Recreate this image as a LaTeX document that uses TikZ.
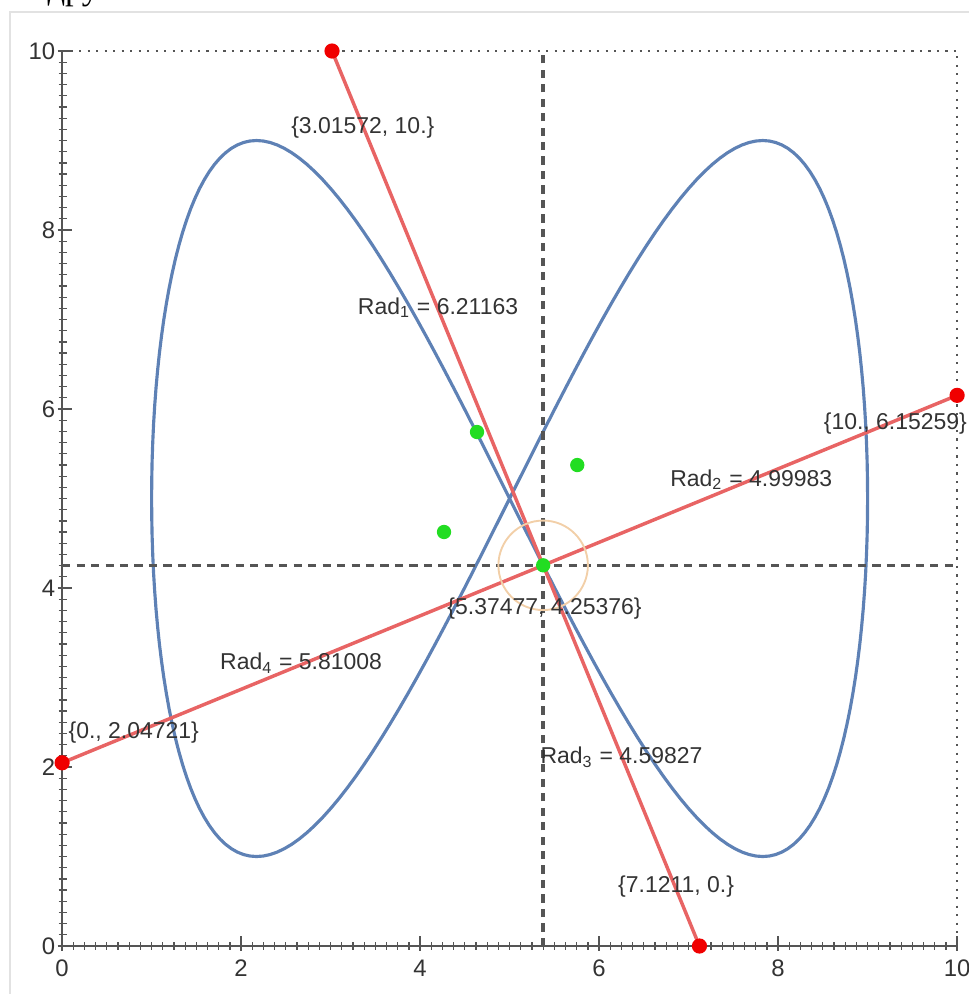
\documentclass[tikz,border=0pt]{standalone}
\usepackage{fontspec}
\setmainfont{Liberation Sans}
\newfontfamily\serifcyr{Liberation Serif}
\definecolor{curveblue}{HTML}{5E81B5}
\definecolor{linered}{HTML}{E86464}
\definecolor{dotred}{HTML}{F00000}
\definecolor{dotgreen}{HTML}{22DD22}
\definecolor{axisgray}{HTML}{555555}
\definecolor{labelgray}{HTML}{333333}
\definecolor{circorange}{HTML}{F2CFA8}
\definecolor{bordergray}{HTML}{E2E2E2}
\begin{document}
\begin{tikzpicture}[x=1cm,y=1cm,
  curve/.style={curveblue, line width=1pt},
  radline/.style={linered, line width=1.1pt},
  guide/.style={axisgray, line width=1.1pt, dash pattern=on 2.6pt off 2pt},
  reddot/.style={circle, fill=dotred, inner sep=0pt, minimum size=0.17cm},
  greendot/.style={circle, fill=dotgreen, inner sep=0pt, minimum size=0.16cm},
  lbl/.style={font=\fontsize{7.3}{8}\selectfont, text=labelgray, inner sep=0pt},
  ticklbl/.style={font=\fontsize{7.6}{9}\selectfont, text=labelgray, inner sep=0pt},
  frameax/.style={axisgray, line width=0.6pt},
  framedot/.style={axisgray, line width=0.7pt, dotted},
  tickmark/.style={axisgray, line width=0.4pt},
]
\useasboundingbox (-0.694,-0.536) rectangle (10.123,10.57);
% cut-off heading and image border
\node[anchor=base west, inner sep=0pt, font=\serifcyr\fontsize{11}{12}\selectfont] (head) at (-0.17,10.575) {друг};
\draw[bordergray, line width=0.8pt] (10.2,10.436) -- (-0.582,10.436) -- (-0.582,-0.6);
% frame
\draw[framedot] (0,10) -- (10,10) -- (10,0);
\draw[frameax] (0,10) -- (0,0) -- (10,0);
\foreach \i in {0,...,80} {
  \draw[tickmark] ({\i/8},-0.04) -- ({\i/8},0.05);
  \draw[tickmark] (-0.04,{\i/8}) -- (0.05,{\i/8});
}
\foreach \v in {0,2,...,10} {
  \draw[tickmark] (\v,-0.05) -- (\v,0.11);
  \draw[tickmark] (-0.05,\v) -- (0.11,\v);
  \node[ticklbl] (xt\v) at (\v,-0.25) {\v};
  \node[ticklbl, anchor=east] (yt\v) at (-0.07,\v) {\v};
}
% curve
\draw[curve] plot[domain=0:360, samples=241, variable=\t] ({5+4*cos(\t)},{5+4*sin(2*\t)}) -- cycle;
% points
\coordinate (C) at (5.37477,4.25376);
\coordinate (P1) at (3.01572,10);
\coordinate (P2) at (10,6.15259);
\coordinate (P3) at (7.1211,0);
\coordinate (P4) at (0,2.04721);
% radius lines
\draw[radline] (P1) -- (P3);
\draw[radline] (P4) -- (P2);
% guide lines
\draw[guide] (5.37477,0) -- (5.37477,10);
\draw[guide] (0,4.25376) -- (10,4.25376);
% circle
\draw[circorange, line width=0.6pt] (C) circle (0.5);
% dots
\node[reddot] (d1) at (P1) {};
\node[reddot] (d2) at (P2) {};
\node[reddot] (d3) at (P3) {};
\node[reddot] (d4) at (P4) {};
\node[greendot] (g0) at (C) {};
\node[greendot] (g1) at (4.636,5.743) {};
\node[greendot] (g2) at (5.756,5.374) {};
\node[greendot] (g3) at (4.267,4.626) {};
% labels
\node[lbl] (lP1) at (3.36,9.14) {\{3.01572, 10.\}};
\node[lbl] (lR1) at (4.20,7.13) {Rad\textsubscript{1} = 6.21163};
\node[lbl] (lP2) at (9.31,5.84) {\{10., 6.15259\}};
\node[lbl] (lR2) at (7.70,5.21) {Rad\textsubscript{2} = 4.99983};
\node[lbl] (lC) at (5.39,3.77) {\{5.37477, 4.25376\}};
\node[lbl] (lR4) at (2.67,3.16) {Rad\textsubscript{4} = 5.81008};
\node[lbl] (lP4) at (0.80,2.38) {\{0., 2.04721\}};
\node[lbl] (lR3) at (6.25,2.11) {Rad\textsubscript{3} = 4.59827};
\node[lbl] (lP3) at (6.86,0.66) {\{7.1211, 0.\}};
\end{tikzpicture}
\end{document}
